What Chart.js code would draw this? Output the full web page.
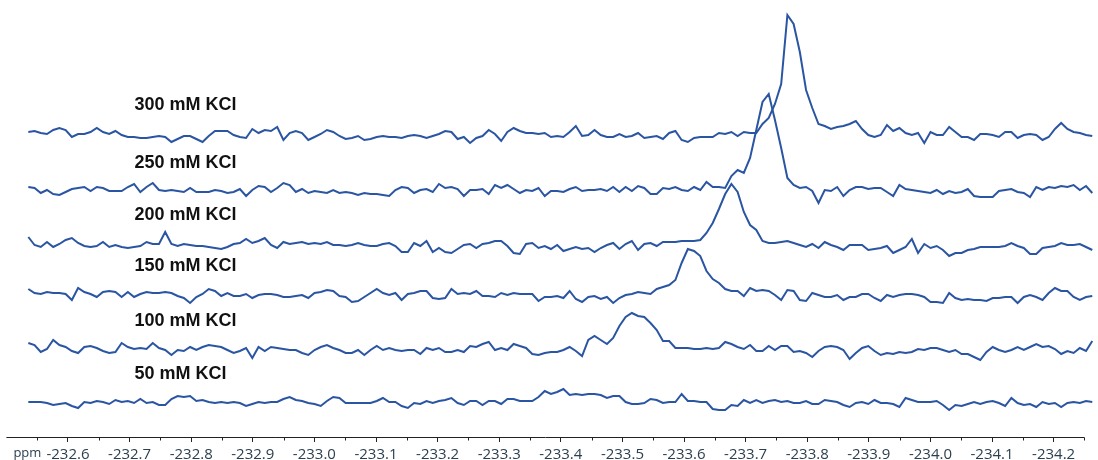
<!DOCTYPE html>
<html><head><meta charset="utf-8">
<script src="https://cdn.jsdelivr.net/npm/chart.js@4"></script>
<style>html,body{margin:0;padding:0;background:#fff;}#wrap{width:1098px;height:460px;}</style>
</head><body><div id="wrap"><canvas id="c" width="1098" height="460"></canvas></div>
<script>
// ---- data ----
const seriesLabels = ['300 mM KCl','250 mM KCl','200 mM KCl','150 mM KCl','100 mM KCl','50 mM KCl'];
const ppmStart = -232.5356;   // first sample (ppm)
const ppmStep = -0.0101;      // sample spacing (ppm)
const axisStart = -232.50, axisEnd = -234.25;
const minorTicks = [-232.55,-232.65,-232.75,-232.85,-232.95,-233.05,-233.15,-233.25,-233.35,-233.45,-233.55,-233.65,-233.75,-233.85,-233.95,-234.05,-234.15,-234.25];

const s300 = [0,1,-1,-2,2,4,2,-5,-2,-2, 0,4,0,-2,1,-3,-5,-5,-6,-6, -5,-4,-5,-10,-7,-4,-4,-7,-10,-4, 1,1,1,-3,-5,-6,3,-1,2,1, 5,-8,-1,1,-1,-8,-5,-2,2,0, -4,-7,-6,-4,-8,-7,-5,-4,-5,-5, -6,-4,-3,-4,-6,-4,-2,1,0,-7, -5,-11,-6,-4,2,-2,-9,0,4,1, -1,-1,-2,-1,-5,-4,-5,0,6,-4, -3,2,-3,-5,-5,-2,-5,-4,-1,-6, -5,-4,-7,-1,1,-8,-10,-6,-5,-5, -5,-1,-2,0,-4,0,-1,-1,8,14, 28,48,117,108,80,42,24,8,6,3, 5,6,8,11,3,-3,-5,-3,7,1, 4,-1,-3,-1,-11,0,-3,-3,5,0, -5,-5,-8,-2,-2,-3,-5,0,0,-6, -3,-2,-3,-8,-5,3,9,3,0,-1, -3,-4];
const s250 = [3,2,-3,0,-4,-5,-2,1,2,3, -1,3,2,-1,-1,-1,3,6,-2,3, 7,0,-1,0,-1,-2,2,-2,-2,-2, 0,-1,-3,-2,1,-6,0,4,3,-2, 2,7,5,-2,1,-3,-1,-2,-3,0, -3,-2,-3,-5,-3,-4,-4,-5,-6,0, 3,2,-3,0,1,-2,6,2,3,1, -6,0,0,1,-4,5,2,5,1,-3, 0,-1,2,-6,-1,-1,-2,1,3,-1, 0,0,1,-1,3,-2,3,-1,4,2, -4,-4,2,1,3,0,-1,3,0,8, 3,3,2,14,20,17,32,60,88,96, 70,42,12,5,2,3,-1,-13,0,-1, 3,-6,0,3,3,1,2,2,-2,-6, 5,1,0,-1,-2,-3,0,-4,-1,-3, -2,1,-6,-7,-7,-7,-1,0,1,-2, -3,-7,3,0,3,2,4,3,5,0, 4,-3];
const s200 = [5,-3,-5,0,-5,-2,2,4,-1,-4, -5,-4,0,-5,-3,-5,-6,-5,-4,0, -2,-2,10,-2,-4,-2,-3,-4,-4,-5, -6,-7,-5,-2,-1,3,-1,1,4,-3, -6,0,-2,-1,0,-2,-1,-2,0,-3, -3,-4,-3,-1,-3,-4,-4,-2,-1,-4, -10,-10,-1,-4,1,-10,-6,-10,-11,-7, -3,-2,-6,-2,-1,1,1,-4,-11,-12, -2,-1,-6,-4,-7,-3,-9,-7,-5,-7, -6,-10,-6,-3,-1,-7,-2,1,-8,-2, -1,-4,0,0,0,1,1,1,2,9, 19,33,48,58,50,30,17,12,1,-1, -1,0,1,-1,-3,-5,-2,-6,0,-3, -5,-8,-3,-3,-3,-8,-7,-6,-4,-11, -8,-5,3,-11,-2,-6,-4,-8,-14,-11, -11,-8,-7,-5,-5,-5,-5,-4,-1,-4, -6,-12,-12,-6,-5,-4,-1,-3,-3,-2, -5,-8];
const s150 = [4,0,-1,1,0,0,-1,-7,5,1, -1,-4,1,2,1,-4,1,-4,-1,1, 0,0,1,0,-3,-5,-10,-4,-1,4, 2,-3,0,-3,-3,-1,-5,-2,-1,-1, -2,-4,-4,-3,-2,-5,0,1,3,2, -3,-4,-9,-8,-4,0,4,0,-2,0, -7,-1,0,2,2,-5,-6,-5,4,-1, 0,-1,2,-3,-3,-4,0,-2,0,-1, -1,-1,-8,-4,-4,-3,-5,2,-6,-9, -4,-3,-6,-4,-10,-5,-2,-1,1,0, -1,4,6,8,13,30,44,42,37,22, 14,10,4,2,2,-3,5,2,3,2, -2,-7,3,2,-7,-8,0,-2,-4,-4, -2,-7,-4,-4,-1,-1,-5,-8,-2,-4, -2,-1,-1,-2,-4,-9,-9,-10,0,-5, -7,-6,-7,-7,-8,-5,-5,-4,-4,-10, -4,-2,-4,-7,0,5,2,2,-4,-7, -4,-3];
const s100 = [5,3,-4,-1,8,3,1,-3,-5,1, 2,0,-3,-5,-4,5,1,-1,0,-1, 5,0,-2,-7,-2,-3,1,-2,1,3, 2,1,-2,-5,-3,0,-10,1,-3,1, 0,-1,-2,-2,-5,-7,-2,1,3,0, -2,-5,-5,-2,-7,-2,2,-2,0,-2, -3,-2,-2,-6,0,-2,0,-4,-4,-2, -4,2,1,4,6,-2,0,-2,4,2, 0,-6,-7,-5,-4,-4,-2,1,-3,-8, 8,12,8,4,10,22,31,35,32,31, 25,18,7,7,0,0,0,-1,-1,0, -1,0,6,4,1,-1,3,-3,-3,2, -2,2,2,-4,-3,-5,-9,-3,1,2, 1,-2,-11,-5,0,2,-3,-7,-5,-6, -4,-5,-4,-1,-2,0,0,-2,-4,-2, -6,-6,-9,-12,-4,1,-2,-4,-2,1, -2,1,4,1,2,-1,-6,-3,-5,0, -3,7];
const s50 = [-1,-1,-1,-2,-4,-3,-2,-5,-7,-1, -2,0,-1,-3,1,-1,0,-2,2,-2, -1,-4,-4,2,5,4,5,0,1,-1, -2,-1,-2,-1,-2,-5,-3,-1,-2,-1, -1,2,4,1,0,-2,-3,-5,0,4, 3,-2,-2,-2,-2,-2,0,3,-1,-1, -5,-7,-2,-3,0,-2,0,1,3,-2, -4,0,0,-4,0,0,-3,2,2,0, 0,0,4,10,7,9,12,6,7,6, 7,7,6,3,5,5,-1,-3,-3,-2, 2,1,-2,-1,-1,7,0,0,-1,-1, -8,-9,-9,-4,-5,1,-2,1,-2,0, 1,-1,0,-2,-2,0,-3,-3,1,0, -1,-4,-6,-2,-1,-3,1,-2,-2,-3, -6,3,1,-1,-1,-1,0,-4,-9,-4, -5,-3,-1,-3,-1,0,-2,-5,3,-2, -4,-3,-6,-1,-3,-2,-6,-2,-1,-2, 0,-1];
const seriesValues = [s300, s250, s200, s150, s100, s50];
const stackOffsets = [305, 247, 195, 144, 89, 36];  // vertical stacking offset of each spectrum

// ---- chart ----
const lineColor = '#2a55a2';
const datasets = seriesValues.map((vals, k) => ({
  label: seriesLabels[k],
  data: vals.map((v, i) => ({x: ppmStart + ppmStep * i, y: v + stackOffsets[k]})),
  borderColor: lineColor, borderWidth: 2, pointRadius: 0, tension: 0, fill: false
}));

const overlay = {
  id: 'overlay',
  afterDraw(chart) {
    const {ctx, scales: {x, y}} = chart;
    const axisY = Math.round(y.getPixelForValue(0)) + 0.5;
    ctx.save();
    ctx.strokeStyle = '#222'; ctx.lineWidth = 1;
    ctx.beginPath();
    ctx.moveTo(x.getPixelForValue(axisStart), axisY);
    ctx.lineTo(x.getPixelForValue(axisEnd), axisY);
    minorTicks.forEach(v => {
      const px = Math.round(x.getPixelForValue(v)) + 0.5;
      ctx.moveTo(px, axisY); ctx.lineTo(px, axisY + 3);
    });
    ctx.stroke();
    ctx.fillStyle = '#2b3f4f';
    ctx.font = '13px "Open Sans"';
    ctx.textBaseline = 'middle'; ctx.textAlign = 'left';
    ctx.fillText('ppm', x.getPixelForValue(axisStart) + 7, axisY + 16);
    ctx.fillStyle = '#111';
    ctx.font = 'bold 18px "Liberation Sans", Arial, sans-serif';
    seriesLabels.forEach((t, k) => {
      ctx.fillText(t, x.getPixelForValue(axisStart) + 128, y.getPixelForValue(stackOffsets[k]) - 27);
    });
    ctx.restore();
  }
};

new Chart(document.getElementById('c'), {
  type: 'line',
  data: {datasets},
  options: {
    responsive: false, animation: false, devicePixelRatio: 1,
    layout: {padding: {left: 7, right: 0, top: 0, bottom: 0}},
    plugins: {legend: {display: false}, tooltip: {enabled: false}},
    scales: {
      x: {
        type: 'linear', reverse: true, min: -234.272, max: -232.501,
        border: {display: false},
        grid: {display: true, drawOnChartArea: false, drawTicks: true, tickLength: 5, color: '#222', lineWidth: 1},
        ticks: {stepSize: 0.1, includeBounds: false, maxRotation: 0, autoSkip: false, padding: 4,
          color: '#2b3f4f', font: {family: '"Open Sans"', size: 15},
          callback: v => v.toFixed(1)},
        afterBuildTicks: s => { s.ticks = s.ticks.filter(t => t.value <= -232.59 && t.value >= -234.21); },
        afterFit: s => { s.height = 23; }
      },
      y: {display: false, min: 0, max: 437}
    }
  },
  plugins: [overlay]
});
</script></body></html>
